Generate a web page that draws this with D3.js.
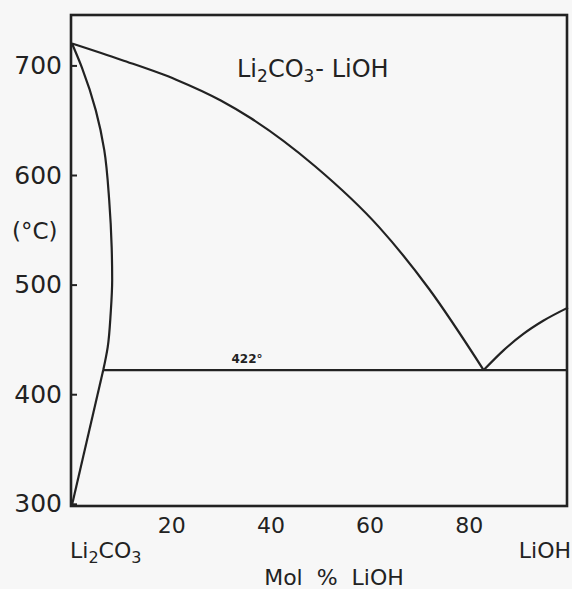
<!DOCTYPE html>
<html><head><meta charset="utf-8">
<script src="https://cdn.jsdelivr.net/npm/d3@7"></script>
<style>
html,body{margin:0;padding:0;background:#f7f7f7;}
svg{display:block;font-family:"DejaVu Sans",sans-serif;}
</style></head>
<body>
<svg id="c" width="572" height="589"></svg>
<script>
// Data (composition in mol % LiOH, temperature in °C)
const liquidusLeft = [[0,720],[10,705],[21,687],[30,668],[36,652],[49,608],[62,552],[72,496],[83,422]];
const liquidusRight = [[83,422],[87,440],[91,455],[95,467],[100,479]];
const solidusUpper = [[0,720],[2.0,698],[4.8,659],[6.5,623],[7.5,577],[8.0,534],[8.1,504],[7.8,474],[7.2,443],[6.3,422]];
const solidusLower = [[6.3,422],[0,299]];
const eutectic = [[6.3,422],[100,422]];
const eutecticLabel = "422°";
const xTicks = [20,40,60,80];
const yTicks = [300,400,500,600,700];

const svg = d3.select("#c");
const x = d3.scaleLinear().domain([0,100]).range([72,568]);
const y = d3.scaleLinear().domain([298,746]).range([506,15]);
const ink = "#222";

// frame
svg.append("rect").attr("x",71).attr("y",15).attr("width",496).attr("height",491)
  .attr("fill","none").attr("stroke",ink).attr("stroke-width",2.6);

// y axis
const ya = svg.append("g").attr("transform","translate(71,0)")
  .call(d3.axisLeft(y).tickValues(yTicks).tickSizeInner(-6).tickSizeOuter(0).tickPadding(9).tickFormat(d3.format("d")));
ya.select(".domain").remove();
ya.selectAll(".tick line").attr("stroke",ink).attr("stroke-width",2);
ya.selectAll("text").attr("font-size",25).attr("fill",ink).attr("font-family","DejaVu Sans, sans-serif");

// x axis
const xa = svg.append("g").attr("transform","translate(0,506)")
  .call(d3.axisBottom(x).tickValues(xTicks).tickSize(0).tickPadding(11).tickFormat(d3.format("d")));
xa.select(".domain").remove();
xa.selectAll("text").attr("font-size",22).attr("fill",ink).attr("font-family","DejaVu Sans, sans-serif");

const lineX = d3.line().x(d=>x(d[0])).y(d=>y(d[1])).curve(d3.curveMonotoneX);
const lineY = d3.line().x(d=>x(d[0])).y(d=>y(d[1])).curve(d3.curveMonotoneY);
const straight = d3.line().x(d=>x(d[0])).y(d=>y(d[1]));
const sw = 2.2;
svg.append("path").attr("d",lineX(liquidusLeft)).attr("fill","none").attr("stroke",ink).attr("stroke-width",sw);
svg.append("path").attr("d",lineX(liquidusRight)).attr("fill","none").attr("stroke",ink).attr("stroke-width",sw);
svg.append("path").attr("d",lineY(solidusUpper)).attr("fill","none").attr("stroke",ink).attr("stroke-width",sw);
[solidusLower, eutectic].forEach(dd=>{
  svg.append("path").attr("d",straight(dd)).attr("fill","none").attr("stroke",ink).attr("stroke-width",sw);
});

// eutectic label
svg.append("text").attr("x",247).attr("y",363).attr("text-anchor","middle")
  .attr("font-size",12).attr("font-weight","bold").attr("fill",ink).text(eutecticLabel);

// title
const t = svg.append("text").attr("x",237).attr("y",77).attr("font-size",24).attr("fill",ink);
t.append("tspan").text("Li");
t.append("tspan").attr("font-size",17).attr("dy",5).text("2");
t.append("tspan").attr("dy",-5).text("CO");
t.append("tspan").attr("font-size",17).attr("dy",5).text("3");
t.append("tspan").attr("dy",-5).attr("dx",1).text("- LiOH");

// unit label
svg.append("text").attr("x",12).attr("y",239).attr("font-size",23).attr("fill",ink).text("(°C)");

// endpoint labels
const l1 = svg.append("text").attr("x",70).attr("y",558).attr("font-size",22).attr("fill",ink);
l1.append("tspan").text("Li");
l1.append("tspan").attr("font-size",16).attr("dy",5).text("2");
l1.append("tspan").attr("dy",-5).text("CO");
l1.append("tspan").attr("font-size",16).attr("dy",5).text("3");
svg.append("text").attr("x",571).attr("y",558).attr("text-anchor","end").attr("font-size",22).attr("fill",ink).text("LiOH");

// axis title
svg.append("text").attr("x",334).attr("y",585).attr("text-anchor","middle").attr("font-size",22)
  .attr("word-spacing",7).attr("fill",ink).text("Mol % LiOH");
</script>
</body></html>
